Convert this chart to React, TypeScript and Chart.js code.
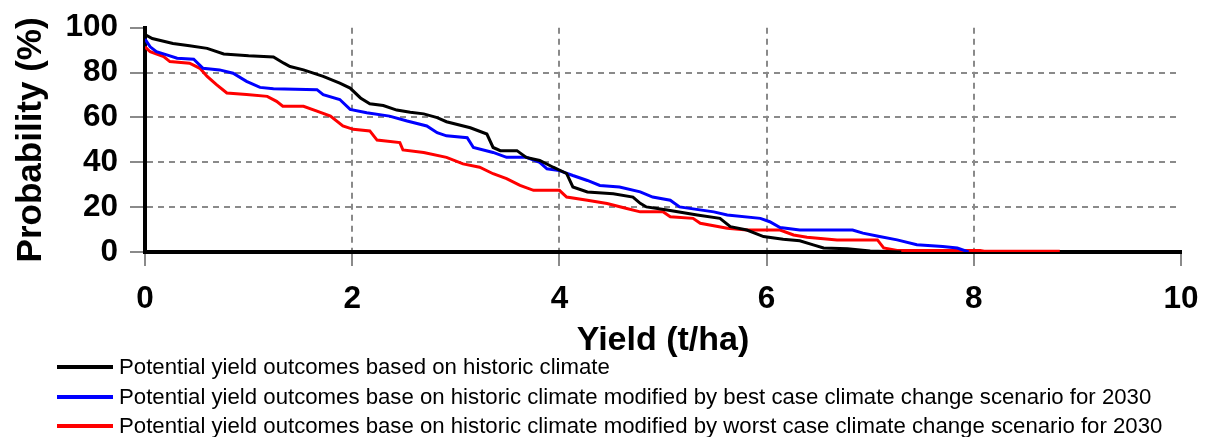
import React, { useEffect, useRef } from "react";
import { Chart, registerables } from "chart.js";

Chart.register(...registerables);

const FONT = "'Liberation Sans', Arial, sans-serif";

const seriesLabels = [
  "Potential yield outcomes based on historic climate",
  "Potential yield outcomes base on historic climate modified by best case climate change scenario for 2030",
  "Potential yield outcomes base on historic climate modified by worst case climate change scenario for 2030",
];
const seriesColors = ["#000000", "#0000ff", "#ff0000"];

const historicX = [0, 0.07, 0.27, 0.43, 0.6, 0.76, 1.0, 1.24, 1.34, 1.4, 1.53, 1.72, 1.88, 1.98, 2.08, 2.17, 2.3, 2.43, 2.56, 2.69, 2.82, 2.91, 3.14, 3.3, 3.36, 3.43, 3.59, 3.68, 3.81, 3.94, 4.07, 4.13, 4.27, 4.52, 4.71, 4.78, 4.84, 5.04, 5.33, 5.55, 5.65, 5.81, 5.97, 6.16, 6.32, 6.45, 6.55, 6.78, 7.0, 7.3];
const historicY = [97, 95.2, 93, 92, 90.8, 88.3, 87.5, 87, 84.2, 82.7, 81.2, 78.3, 75.3, 73.1, 68.7, 66.1, 65.3, 63.3, 62.3, 61.6, 59.9, 58.1, 55.4, 52.6, 46.6, 45.2, 45.2, 42.2, 40.8, 37.8, 35.0, 29.0, 26.8, 26.0, 24.5, 21.7, 20.1, 18.7, 16.5, 15.0, 11.3, 9.8, 6.9, 5.7, 5.0, 3.2, 1.8, 1.5, 0.5, 0];

const bestX = [0, 0.05, 0.11, 0.21, 0.31, 0.47, 0.56, 0.72, 0.85, 0.98, 1.11, 1.24, 1.66, 1.72, 1.88, 1.98, 2.14, 2.36, 2.53, 2.72, 2.82, 2.91, 3.11, 3.17, 3.36, 3.49, 3.68, 3.81, 3.88, 4.0, 4.13, 4.27, 4.39, 4.58, 4.78, 4.9, 5.07, 5.16, 5.49, 5.62, 5.94, 6.03, 6.13, 6.32, 6.83, 6.93, 7.09, 7.26, 7.45, 7.7, 7.84, 7.95];
const bestY = [95, 91.5, 89.3, 87.9, 86.4, 86, 81.9, 81.2, 79.7, 76.1, 73.4, 72.8, 72.4, 70.2, 68, 63.6, 62.1, 60.6, 58.4, 56.2, 53.2, 51.8, 51.0, 46.6, 44.4, 42.2, 42.2, 40.0, 37.1, 36.3, 34.1, 31.9, 29.7, 29.0, 26.8, 24.5, 23.1, 20.1, 17.9, 16.5, 15.0, 13.5, 10.9, 9.8, 9.8, 8.4, 6.9, 5.4, 3.2, 2.5, 1.8, 0];

const worstX = [0, 0.05, 0.18, 0.24, 0.43, 0.53, 0.6, 0.69, 0.79, 0.98, 1.18, 1.27, 1.33, 1.53, 1.66, 1.79, 1.91, 2.01, 2.17, 2.24, 2.46, 2.49, 2.69, 2.91, 3.07, 3.23, 3.36, 3.49, 3.62, 3.75, 4.0, 4.07, 4.27, 4.46, 4.65, 4.78, 5.0, 5.07, 5.29, 5.36, 5.62, 5.81, 6.13, 6.26, 6.39, 6.68, 7.07, 7.13, 7.26, 8.06, 8.1, 8.83];
const worstY = [91.5, 89.3, 87.1, 84.9, 84.2, 81.9, 78.3, 74.6, 70.9, 70.2, 69.4, 67.2, 65, 65, 62.8, 60.6, 56.2, 54.7, 54, 49.9, 48.8, 45.5, 44.4, 42.2, 39.3, 37.8, 34.9, 32.7, 29.7, 27.5, 27.5, 24.5, 23.1, 21.6, 19.4, 17.9, 17.9, 15.7, 15.0, 12.8, 10.6, 9.8, 9.8, 7.6, 6.6, 5.4, 5.4, 1.8, 0.7, 0.7, 0.3, 0.3];

const seriesX = [historicX, bestX, worstX];
const seriesY = [historicY, bestY, worstY];

const xMin = 0;
const xMax = 10;
const xStep = 2;
const yMin = 0;
const yMax = 100;
const yStep = 20;

const xTitle = "Yield (t/ha)";
const yTitle = "Probability (%)";

const legendRowTops = [354, 384, 413];

export default function App() {
  const ref = useRef<HTMLCanvasElement>(null);

  useEffect(() => {
    document.body.style.margin = "0";
    const canvas = ref.current;
    if (!canvas) return;
    const gridColorX = (c: any) =>
      c.tick && (c.tick.value === xMin || c.tick.value === xMax) ? "rgba(0,0,0,0)" : "#8a8a8a";
    const gridColorY = (c: any) =>
      c.tick && (c.tick.value === yMin || c.tick.value === yMax) ? "rgba(0,0,0,0)" : "#8a8a8a";
    const chart = new Chart(canvas, {
      type: "line",
      data: {
        datasets: seriesLabels.map((label, i) => ({
          label,
          data: seriesX[i].map((x, j) => ({ x, y: seriesY[i][j] })),
          borderColor: seriesColors[i],
          backgroundColor: seriesColors[i],
          borderWidth: 3,
          pointRadius: 0,
          fill: false,
          tension: 0,
        })),
      },
      options: {
        responsive: false,
        animation: false,
        devicePixelRatio: 1,
        layout: { padding: { left: 0, top: 26, right: 25, bottom: 79 } },
        plugins: { legend: { display: false }, tooltip: { enabled: false } },
        scales: {
          x: {
            type: "linear",
            min: xMin,
            max: xMax,
            ticks: {
              stepSize: xStep,
              color: "#000",
              padding: 18,
              maxRotation: 0,
              font: { family: FONT, size: 31.5, weight: "bold", lineHeight: 1 },
            },
            grid: {
              color: gridColorX,
              lineWidth: 2,
              tickColor: "#8a8a8a",
              tickLength: 14,
              tickWidth: 2,
              tickBorderDash: [],
            },
            border: { display: true, color: "#000", width: 4, dash: [6, 5] },
            title: {
              display: true,
              text: xTitle,
              color: "#000",
              font: { family: FONT, size: 34, weight: "bold", lineHeight: 1 },
              padding: { top: 0, bottom: 0 },
            },
            afterFit: (s: any) => {
              s.height = 106;
              s.paddingLeft = 0;
              s.paddingRight = 0;
            },
          },
          y: {
            type: "linear",
            min: yMin,
            max: yMax,
            ticks: {
              stepSize: yStep,
              color: "#000",
              padding: 12,
              font: { family: FONT, size: 31.5, weight: "bold", lineHeight: 1 },
            },
            grid: {
              color: gridColorY,
              lineWidth: 2,
              tickColor: "#8a8a8a",
              tickLength: 15,
              tickWidth: 2,
              tickBorderDash: [],
            },
            border: { display: true, color: "#000", width: 4, dash: [6, 5] },
            title: {
              display: true,
              text: yTitle,
              color: "#000",
              font: { family: FONT, size: 35, weight: "bold", lineHeight: 1 },
              padding: { top: 14, bottom: 0 },
            },
            afterFit: (s: any) => {
              s.width = 145;
            },
          },
        },
      },
    });
    return () => chart.destroy();
  }, []);

  return (
    <div style={{ position: "relative", width: 1206, height: 437, background: "#fff" }}>
      <canvas ref={ref} width={1206} height={437} style={{ display: "block", width: 1206, height: 437 }} />
      {seriesLabels.map((label, i) => (
        <div
          key={i}
          style={{
            position: "absolute",
            left: 57,
            top: legendRowTops[i],
            height: 25,
            display: "flex",
            alignItems: "center",
            whiteSpace: "nowrap",
            fontFamily: FONT,
            fontSize: 22.2,
            color: "#000",
          }}
        >
          <span style={{ display: "inline-block", width: 56, height: 4, background: seriesColors[i], marginRight: 6 }} />
          <span>{label}</span>
        </div>
      ))}
    </div>
  );
}
